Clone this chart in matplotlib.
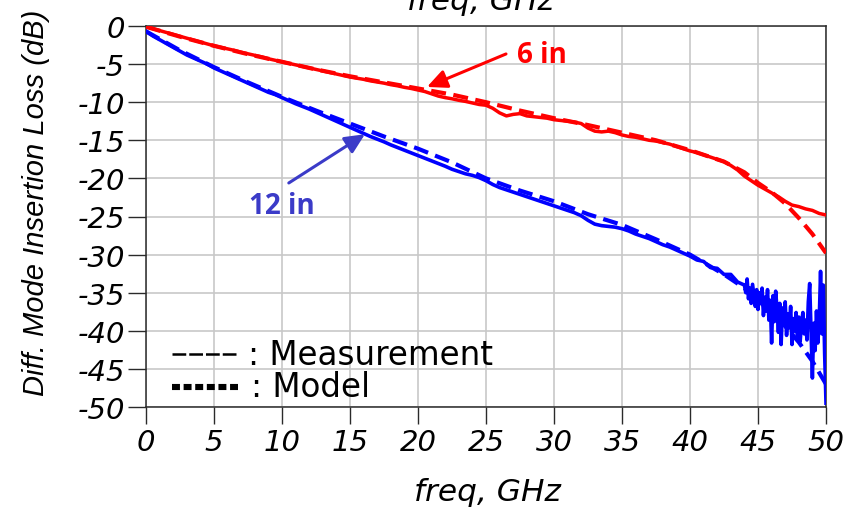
import numpy as np
import matplotlib
matplotlib.use("Agg")
import matplotlib.pyplot as plt
from matplotlib.lines import Line2D

plt.rcParams["axes.unicode_minus"] = False

# ---------------- data ----------------
# Measured differential-mode insertion loss, 0.5 GHz steps from 0 to 50 GHz
freq_meas = np.arange(0, 50.01, 0.5)

loss_6in_meas = [
    -0.1, -0.35, -0.6, -0.85, -1.1, -1.35, -1.6, -1.85, -2.1, -2.35,
    -2.6, -2.8, -3.0, -3.2, -3.45, -3.65, -3.85, -4.05, -4.3, -4.5,
    -4.7, -4.9, -5.1, -5.3, -5.5, -5.7, -5.9, -6.1, -6.3, -6.5,
    -6.7, -6.85, -7.0, -7.2, -7.35, -7.5, -7.7, -7.85, -8.05, -8.2,
    -8.4, -8.6, -8.9, -9.2, -9.4, -9.55, -9.75, -9.9, -10.1, -10.3,
    -10.4, -10.8, -11.4, -11.8, -11.6, -11.5, -11.8, -11.9, -12.0, -12.1,
    -12.3, -12.4, -12.5, -12.6, -12.8, -13.4, -13.8, -13.9, -13.8, -14.0,
    -14.3, -14.5, -14.6, -14.8, -15.0, -15.1, -15.3, -15.5, -15.8, -16.1,
    -16.4, -16.6, -16.9, -17.2, -17.5, -17.8, -18.3, -18.9, -19.7, -20.3,
    -20.9, -21.4, -21.9, -22.4, -23.0, -23.5, -23.7, -24.0, -24.2, -24.6,
    -24.8,
]

# 12 in trace: 0.5 GHz steps up to 44 GHz, then 0.1 GHz steps where it gets noisy
freq_12in_low = np.arange(0, 44.01, 0.5)
loss_12in_low = [
    -0.7, -1.3, -1.8, -2.3, -2.8, -3.3, -3.8, -4.2, -4.6, -5.0,
    -5.5, -5.9, -6.3, -6.7, -7.1, -7.5, -7.9, -8.3, -8.7, -9.0,
    -9.4, -9.8, -10.2, -10.55, -10.9, -11.3, -11.7, -12.1, -12.5, -12.9,
    -13.3, -13.7, -14.1, -14.5, -14.85, -15.2, -15.6, -15.95, -16.3, -16.65,
    -17.0, -17.35, -17.7, -18.05, -18.4, -18.8, -19.1, -19.4, -19.6, -19.9,
    -20.3, -20.8, -21.2, -21.5, -21.8, -22.1, -22.4, -22.7, -23.0, -23.3,
    -23.6, -23.9, -24.2, -24.5, -24.9, -25.5, -26.0, -26.2, -26.3, -26.4,
    -26.6, -26.9, -27.3, -27.6, -27.9, -28.3, -28.7, -29.0, -29.4, -29.8,
    -30.2, -30.7, -30.9, -31.7, -31.8, -32.6, -32.6, -33.6, -34.0,
]
freq_12in_high = np.round(np.arange(44.1, 50.01, 0.1), 1)
loss_12in_high = [
    -35.0, -33.2, -35.8, -34.4, -36.4, -33.9, -35.3, -36.8, -34.6, -37.2,
    -35.0, -36.3, -34.4, -38.0, -35.6, -37.4, -34.6, -38.6, -36.0, -41.6,
    -35.4, -38.8, -34.8, -37.2, -40.2, -36.4, -41.8, -37.0, -39.2, -36.2,
    -40.6, -37.8, -39.6, -36.8, -41.8, -38.4, -40.0, -37.6, -40.8, -38.2,
    -41.4, -39.0, -37.6, -40.4, -38.6, -41.2, -36.2, -33.8, -40.2, -46.2,
    -39.0, -42.6, -37.4, -41.6, -38.8, -32.2, -40.4, -34.0, -43.0, -49.5,
]

# Model curves
freq_model = [0, 2.5, 5, 7.5, 10, 12.5, 15, 17.5, 20, 22.5, 25, 27.5, 30,
              32.5, 35, 37.5, 40, 42.5, 44, 45, 46, 47, 48, 49, 50]
loss_6in_model = [-0.1, -1.4, -2.6, -3.7, -4.7, -5.7, -6.6, -7.4, -8.2, -9.0,
                  -10.0, -11.1, -12.1, -13.0, -14.0, -15.0, -16.3, -17.8, -19.2,
                  -20.6, -21.8, -23.3, -25.2, -27.3, -29.8]
loss_12in_model = [-0.7, -3.2, -5.4, -7.4, -9.3, -11.1, -12.8, -14.5, -16.1, -17.9,
                   -20.0, -21.6, -23.0, -24.7, -26.1, -28.0, -30.0, -32.6, -34.4,
                   -36.0, -37.6, -39.4, -41.5, -44.0, -47.0]

xticks = list(range(0, 51, 5))
yticks = list(range(0, -51, -5))

RED = "#ff0000"
BLUE = "#0000ff"
BLUE_TXT = "#3b3bc8"

# ---------------- figure ----------------
fig = plt.figure(figsize=(8.55, 5.1), dpi=100)
ax = fig.add_axes([146 / 855, 1 - 408 / 510, 680 / 855, 381 / 510])

ax.plot(freq_meas, loss_6in_meas, color=RED, lw=2.5, zorder=3)
ax.plot(np.concatenate([freq_12in_low, freq_12in_high]),
        loss_12in_low + loss_12in_high, color=BLUE, lw=2.6, zorder=3)
ax.plot(freq_model, loss_6in_model, color=RED, lw=3.0, ls=(0, (3.6, 1.8)), zorder=4)
ax.plot(freq_model, loss_12in_model, color=BLUE, lw=3.0, ls=(0, (3.6, 1.8)), zorder=4)

ax.set_xlim(0, 50)
ax.set_ylim(-50, 0)
ax.set_xticks(xticks)
ax.set_yticks(yticks)
ax.set_xticklabels([str(v) for v in xticks])
ax.set_yticklabels([str(v) for v in yticks])

ax.grid(True, color="#c8c8c8", lw=1.2)
ax.set_axisbelow(True)
for s in ax.spines.values():
    s.set_color("#2a2a2a")
    s.set_linewidth(1.1)

ax.tick_params(axis="x", length=12, width=1.0, color="#2a2a2a", pad=3)
ax.tick_params(axis="y", length=13, width=1.0, color="#2a2a2a", pad=2)
for lab in ax.get_xticklabels() + ax.get_yticklabels():
    lab.set_fontfamily("DejaVu Sans")
    lab.set_fontstyle("oblique")
    lab.set_fontsize(21)

fig.text(487 / 855, 1 - 493 / 510, "freq, GHz", ha="center", va="center",
         family="DejaVu Sans", style="oblique", size=22.5)
fig.text(480 / 855, 1 - 10 / 510, "freq, GHz", ha="center", va="baseline",
         family="DejaVu Sans", style="oblique", size=22.5)
fig.text(36 / 855, 1 - 203 / 510, "Diff. Mode Insertion Loss (dB)", rotation=90,
         ha="center", va="center", family="Liberation Sans", style="italic", size=21)

# trace labels with arrows
ax.annotate("", xy=(20.66, -8.0), xytext=(26.47, -3.67),
            arrowprops=dict(arrowstyle="-|>,head_length=0.6,head_width=0.28",
                            color=RED, lw=2.2, mutation_scale=20,
                            shrinkA=0, shrinkB=0), zorder=6)
ax.text(27.3, -3.7, "6 in", color=RED, ha="left", va="center",
        family="Open Sans", weight="bold", size=20, zorder=6)

ax.annotate("", xy=(16.1, -14.2), xytext=(10.5, -20.6),
            arrowprops=dict(arrowstyle="-|>,head_length=0.6,head_width=0.28",
                            color=BLUE_TXT, lw=2.2, mutation_scale=20,
                            shrinkA=0, shrinkB=0), zorder=6)
ax.text(10.0, -23.6, "12 in", color=BLUE_TXT, ha="center", va="center",
        family="Open Sans", weight="bold", size=20, zorder=6)

# line-style key
ax.add_line(Line2D([0.038, 0.134], [0.139, 0.139], transform=ax.transAxes,
                   color="black", lw=1.8, dashes=(5.5, 1.2), zorder=6))
ax.add_line(Line2D([0.038, 0.140], [0.0525, 0.0525], transform=ax.transAxes,
                   color="black", lw=4.4, dashes=(1.3, 0.6),
                   solid_capstyle="butt", dash_capstyle="butt", zorder=6))
ax.text(0.150, 0.139, ": Measurement", transform=ax.transAxes, ha="left",
        va="center", family="DejaVu Sans", size=23.5, zorder=6)
ax.text(0.155, 0.0525, ": Model", transform=ax.transAxes, ha="left",
        va="center", family="DejaVu Sans", size=23.5, zorder=6)

fig.savefig("out.png", dpi=100)
